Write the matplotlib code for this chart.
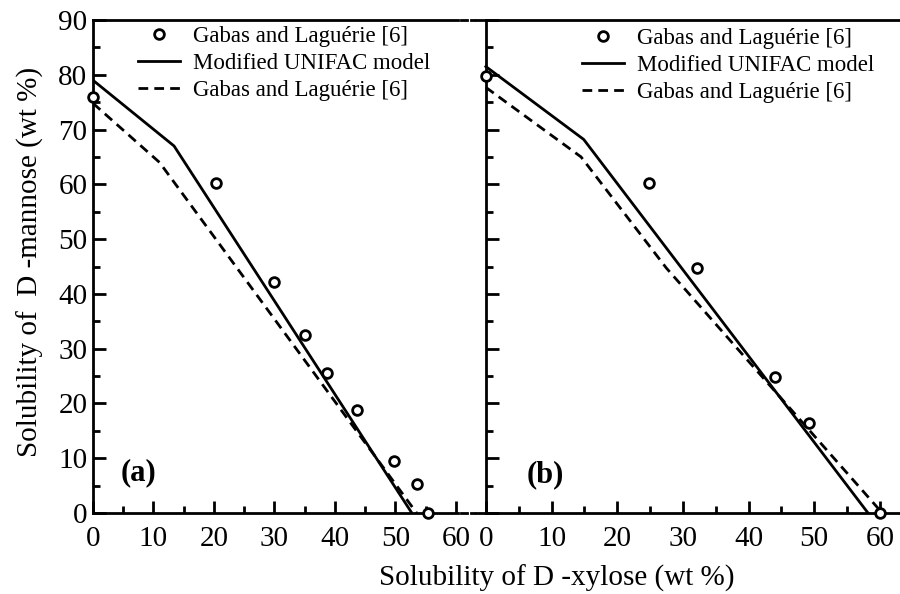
import matplotlib.pyplot as plt
from matplotlib.lines import Line2D
from matplotlib.ticker import MultipleLocator

plt.rcParams['font.family'] = ['Liberation Serif', 'DejaVu Serif']

# (a) experimental points and model curves
a_exp_x = [0, 20.3, 29.9, 35.0, 38.6, 43.7, 49.8, 53.6, 55.3]
a_exp_y = [75.9, 60.2, 42.1, 32.5, 25.5, 18.8, 9.5, 5.3, 0]
a_unifac_x = [0, 13.4, 52.7]
a_unifac_y = [79.0, 67.0, 0]
a_gabas_x = [0, 11.0, 53.5]
a_gabas_y = [74.8, 64.0, 0]

# (b)
b_exp_x = [0, 24.9, 32.2, 44.0, 49.2, 60.0]
b_exp_y = [79.7, 60.2, 44.7, 24.9, 16.5, 0]
b_unifac_x = [0, 14.9, 58.2]
b_unifac_y = [81.5, 68.2, 0]
b_gabas_x = [0, 14.5, 27.5, 60.0]
b_gabas_y = [77.7, 65.0, 44.7, 0.5]

labels = ['Gabas and Laguérie [6]', 'Modified UNIFAC model', 'Gabas and Laguérie [6]']

W, H = 900, 594
fig = plt.figure(figsize=(9, 5.94), dpi=100)

bot = 81 / H
hgt = 493 / H
ax1 = fig.add_axes([93 / W, bot, 364.8 / W, hgt])
ax2 = fig.add_axes([476 / W, bot, 424 / W, hgt])

lw = 2.0
for ax, ex, ey, ux, uy, gx, gy in [
        (ax1, a_exp_x, a_exp_y, a_unifac_x, a_unifac_y, a_gabas_x, a_gabas_y),
        (ax2, b_exp_x, b_exp_y, b_unifac_x, b_unifac_y, b_gabas_x, b_gabas_y)]:
    h0, = ax.plot(ex, ey, 'o', ms=7, mfc='white', mec='black', mew=2.0,
                  clip_on=False, zorder=5)
    h1, = ax.plot(ux, uy, '-', color='black', lw=lw)
    h2, = ax.plot(gx, gy, '--', color='black', lw=lw, dashes=(3.5, 2.2))
    ax.set_ylim(0, 90)
    ax.xaxis.set_major_locator(MultipleLocator(10))
    ax.xaxis.set_minor_locator(MultipleLocator(5))
    ax.yaxis.set_major_locator(MultipleLocator(10))
    ax.yaxis.set_minor_locator(MultipleLocator(5))
    ax.tick_params(which='both', direction='in', width=2.0, labelsize=21,
                   top=False, right=False)
    ax.tick_params(which='major', length=9)
    ax.tick_params(which='minor', length=5)
    ax.tick_params(axis='x', pad=9)
    ax.tick_params(axis='y', pad=4)
    ax.spines['right'].set_visible(False)
    for s in ['left', 'bottom', 'top']:
        ax.spines[s].set_linewidth(2.0)
    ax.patch.set_alpha(0)
    handles = [h0, h1, h2]

ax1.set_xlim(0, 60.3)
ax2.set_xlim(-1.5, 63.07)
ax2.spines['left'].set_position(('data', 0))
ax2.set_xticks([0, 10, 20, 30, 40, 50, 60])
ax2.set_xticks([5, 15, 25, 35, 45, 55], minor=True)
ax2.tick_params(axis='y', labelleft=False)

leg_kw = dict(frameon=False, fontsize=16.5, handlelength=1.85, handletextpad=0.55,
              labelspacing=0.26, borderpad=0, borderaxespad=0, loc='upper left')
ax1.legend(handles, labels, bbox_to_anchor=(138 / W, 1 - 26 / H),
           bbox_transform=fig.transFigure, **leg_kw)
ax2.legend(handles, labels, bbox_to_anchor=(582 / W, 1 - 28 / H),
           bbox_transform=fig.transFigure, **leg_kw)

ax1.text(4.5, 7.3, '(a)', fontsize=22, fontweight='bold', va='center')
ax2.text(6.2, 6.9, '(b)', fontsize=22, fontweight='bold', va='center')

# break marks between the two panels
for yy in [1 - 513 / H, 1 - 20 / H]:
    fig.add_artist(Line2D([461 / W, 467 / W], [yy, yy], color='black', lw=2.0))
    fig.add_artist(Line2D([471 / W, 474 / W], [yy, yy], color='black', lw=2.0))

fig.text(557 / W, 1 - 578 / H, 'Solubility of D -xylose (wt %)', fontsize=21,
         ha='center', va='center')
fig.text(30 / W, 1 - 262 / H, 'Solubility of  D -mannose (wt %)', fontsize=21,
         ha='center', va='center', rotation=90)

fig.savefig('out.png', dpi=100)
